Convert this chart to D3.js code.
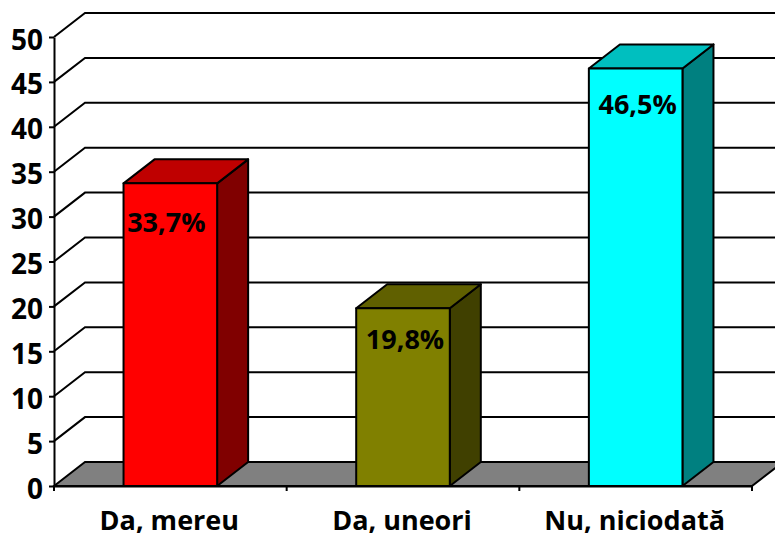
<!DOCTYPE html>
<head>
  <meta charset="utf-8">
  <title>Chart</title>
  <style>
    html, body { margin: 0; padding: 0; background: #fff; overflow: hidden; }
    text { font-family: "Open Sans", sans-serif; font-weight: 700; fill: #000; }
    .axis .domain, .axis line { stroke: #000; stroke-width: 2px; }
    .axis text { font-family: "Open Sans", sans-serif; font-weight: 700; }
    .grid { stroke: #000; stroke-width: 2px; fill: none; }
    .bar path { stroke: #000; stroke-width: 2px; stroke-linejoin: round; }
  </style>
</head>
<body>
  <div id="chart"></div>
  <script src="https://d3js.org/d3.v7.min.js"></script>
  <script>
    var categories = ["Da, mereu", "Da, uneori", "Nu, niciodată"];
    var values = [33.7, 19.8, 46.5];
    var valueLabels = ["33,7%", "19,8%", "46,5%"];
    var yTicks = [0, 5, 10, 15, 20, 25, 30, 35, 40, 45, 50];
    var frontColors = ["#ff0000", "#808000", "#00ffff"];
    var topColors = ["#bf0000", "#606000", "#00bfbf"];
    var sideColors = ["#800000", "#404000", "#008080"];

    var width = 775,
        height = 536,
        depthX = 31,
        depthY = 24;

    var svg = d3.select("#chart")
        .append("svg")
        .attr("width", width)
        .attr("height", height)
        .style("display", "block");

    var x = d3.scaleBand().domain(categories).range([54, 752]).paddingInner(0).paddingOuter(0);
    var y = d3.scaleLinear().domain([0, 50]).range([486, 37]);
    var barWidth = 93.6;
    var line = d3.line();

    // the labels do not sit the same way in each bar
    var labelShiftX = [-4, 2, 2];
    var labelShiftY = [49, 41, 46];

    // floor
    svg.append("path")
      .attr("d", line([[x.range()[0], y(0)], [x.range()[0] + depthX, y(0) - depthY],
                       [x.range()[1] + depthX, y(0) - depthY], [x.range()[1], y(0)]]) + "Z")
      .attr("fill", "#808080")
      .attr("stroke", "#000")
      .attr("stroke-width", 2);

    // wall lines
    svg.selectAll(".grid")
      .data(yTicks.filter(function(d) { return d > 0; }))
      .enter().append("path")
      .attr("class", "grid")
      .attr("d", function(d) {
        return line([[x.range()[0], y(d)], [x.range()[0] + depthX, y(d) - depthY], [width + 5, y(d) - depthY]]);
      });

    // axes
    var axisY = svg.append("g")
      .attr("class", "axis")
      .attr("transform", "translate(" + x.range()[0] + ",0)")
      .call(d3.axisLeft(y).tickValues(yTicks).tickSize(5).tickSizeOuter(0).tickPadding(6));
    axisY.selectAll("text").attr("dy", "0.43em").style("font-size", "28px");

    var axisX = svg.append("g")
      .attr("class", "axis")
      .attr("transform", "translate(0," + y(0) + ")")
      .call(d3.axisBottom(x).tickSize(0).tickPadding(25));
    axisX.selectAll("text").attr("dy", "0.71em").attr("dx", -1).style("font-size", "27px");

    axisX.selectAll(".edge")
      .data(d3.range(categories.length + 1))
      .enter().append("line")
      .attr("class", "edge")
      .attr("x1", function(i) { return x.range()[0] + i * x.step(); })
      .attr("x2", function(i) { return x.range()[0] + i * x.step(); })
      .attr("y1", 0)
      .attr("y2", 5);

    // bars
    var bars = svg.selectAll(".bar")
      .data(values)
      .enter().append("g")
      .attr("class", "bar");

    function left(i) { return x(categories[i]) + x.bandwidth() / 2 - barWidth / 2; }

    bars.append("path")
      .attr("fill", function(d, i) { return sideColors[i]; })
      .attr("d", function(d, i) {
        var r = left(i) + barWidth;
        return line([[r, y(d)], [r + depthX, y(d) - depthY], [r + depthX, y(0) - depthY], [r, y(0)]]) + "Z";
      });

    bars.append("path")
      .attr("fill", function(d, i) { return topColors[i]; })
      .attr("d", function(d, i) {
        var l = left(i);
        return line([[l, y(d)], [l + depthX, y(d) - depthY], [l + barWidth + depthX, y(d) - depthY], [l + barWidth, y(d)]]) + "Z";
      });

    bars.append("path")
      .attr("fill", function(d, i) { return frontColors[i]; })
      .attr("d", function(d, i) {
        var l = left(i);
        return line([[l, y(d)], [l + barWidth, y(d)], [l + barWidth, y(0)], [l, y(0)]]) + "Z";
      });

    bars.append("text")
      .attr("x", function(d, i) { return left(i) + barWidth / 2 + labelShiftX[i]; })
      .attr("y", function(d, i) { return y(d) + labelShiftY[i]; })
      .attr("text-anchor", "middle")
      .attr("font-size", 27)
      .text(function(d, i) { return valueLabels[i]; });
  </script>
</body>
